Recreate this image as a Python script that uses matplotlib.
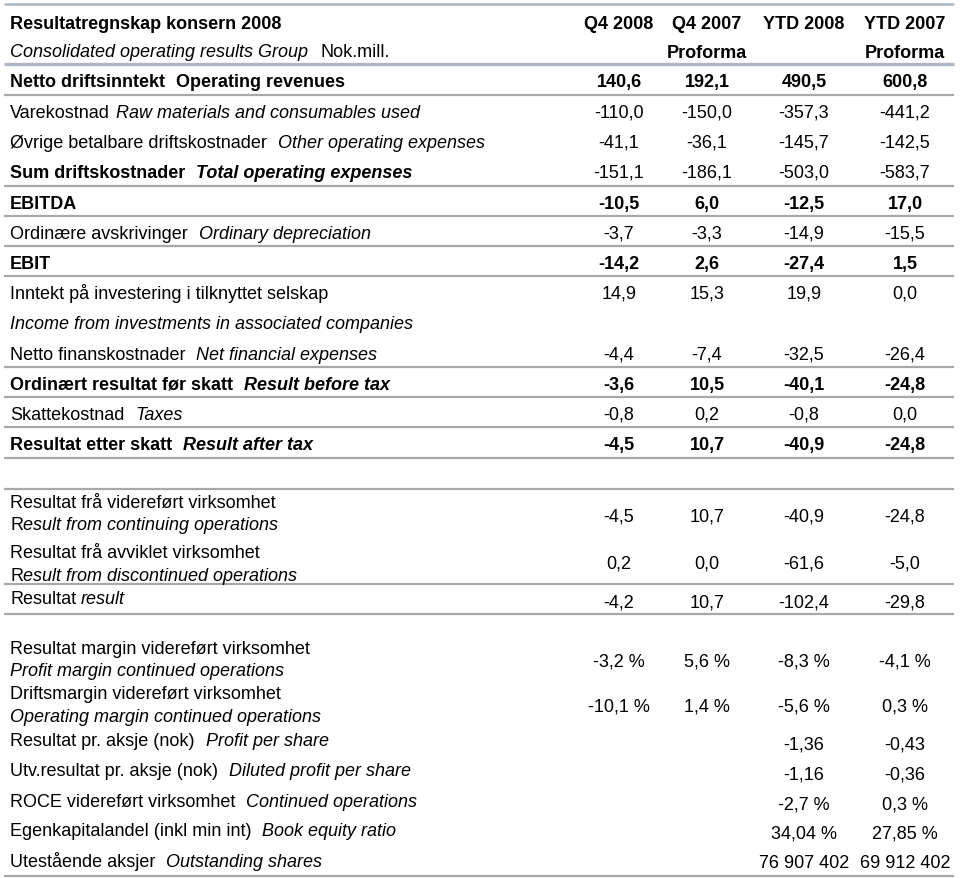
import matplotlib
matplotlib.use("Agg")
import matplotlib.pyplot as plt

plt.rcParams['font.family'] = ['Liberation Sans', 'DejaVu Sans']

# ---- data -------------------------------------------------------------
col_headers = ["Q4 2008", "Q4 2007", "YTD 2008", "YTD 2007"]
col_sub = ["", "Proforma", "", "Proforma"]

# main income statement (Nok.mill.)
main_no = ["Netto driftsinntekt", "Varekostnad", "Øvrige betalbare driftskostnader",
           "Sum driftskostnader", "EBITDA", "Ordinære avskrivinger", "EBIT",
           "Inntekt på investering i tilknyttet selskap", "Netto finanskostnader",
           "Ordinært resultat før skatt", "Skattekostnad", "Resultat etter skatt"]
main_en = ["Operating revenues", "Raw materials and consumables used",
           "Other operating expenses", "Total operating expenses", "",
           "Ordinary depreciation", "", "Income from investments in associated companies",
           "Net financial expenses", "Result before tax", "Taxes", "Result after tax"]
main_q4_2008 = [140.6, -110.0, -41.1, -151.1, -10.5, -3.7, -14.2, 14.9, -4.4, -3.6, -0.8, -4.5]
main_q4_2007 = [192.1, -150.0, -36.1, -186.1, 6.0, -3.3, 2.6, 15.3, -7.4, 10.5, 0.2, 10.7]
main_ytd_2008 = [490.5, -357.3, -145.7, -503.0, -12.5, -14.9, -27.4, 19.9, -32.5, -40.1, -0.8, -40.9]
main_ytd_2007 = [600.8, -441.2, -142.5, -583.7, 17.0, -15.5, 1.5, 0.0, -26.4, -24.8, 0.0, -24.8]
main_bold_label = [True, False, False, True, True, False, True, False, False, True, False, True]
main_bold_value = [True, False, False, False, True, False, True, False, False, True, False, True]

# continuing / discontinued
res_no = ["Resultat frå videreført virksomhet", "Resultat frå avviklet virksomhet", "Resultat"]
res_en = ["Result from continuing operations", "Result from discontinued operations", "result"]
res_q4_2008 = [-4.5, 0.2, -4.2]
res_q4_2007 = [10.7, 0.0, 10.7]
res_ytd_2008 = [-40.9, -61.6, -102.4]
res_ytd_2007 = [-24.8, -5.0, -29.8]

# key figures
key_no = ["Resultat margin videreført virksomhet", "Driftsmargin videreført virksomhet",
          "Resultat pr. aksje (nok)", "Utv.resultat pr. aksje (nok)",
          "ROCE videreført virksomhet", "Egenkapitalandel (inkl min int)", "Utestående aksjer"]
key_en = ["Profit margin continued operations", "Operating margin continued operations",
          "Profit per share", "Diluted profit per share", "Continued operations",
          "Book equity ratio", "Outstanding shares"]
key_values = [
    ["-3,2 %", "5,6 %", "-8,3 %", "-4,1 %"],
    ["-10,1 %", "1,4 %", "-5,6 %", "0,3 %"],
    ["", "", "-1,36", "-0,43"],
    ["", "", "-1,16", "-0,36"],
    ["", "", "-2,7 %", "0,3 %"],
    ["", "", "34,04 %", "27,85 %"],
    ["", "", "76 907 402", "69 912 402"],
]

# ---- layout -----------------------------------------------------------
FS = 13
BASE = 6  # baseline offset from row centre, px
col_x = [619, 707, 804, 905]
x0 = 10
main_y = [81, 112, 142, 172, 203, 233, 263, 293, 354, 384, 414, 444]
res_y_no = [502, 552, 598]
res_y_en = [524, 575, 598]
res_y_val = [516, 563, 602]
key_y_no = [648, 693, 740, 770, 801, 830, 861]
key_y_en = [670, 716, 740, 770, 801, 830, 861]
key_y_val = [661, 706, 744, 774, 804, 833, 862]

fig = plt.figure(figsize=(9.6, 8.79), dpi=100)
ax = fig.add_axes([0, 0, 1, 1])
ax.set_xlim(0, 960)
ax.set_ylim(879, 0)
ax.axis('off')
renderer = fig.canvas.get_renderer()


def fmt(v):
    return f"{v:.1f}".replace('.', ',')


def label(x, y, text, weight='normal', style='normal'):
    return ax.text(x, y + BASE, text, fontsize=FS, fontweight=weight, fontstyle=style,
                   va='baseline', ha='left')


def segments(x, y, parts):
    """Draw text pieces one after another on the same line."""
    for text, weight, style, gap in parts:
        t = label(x, y, text, weight, style)
        bb = t.get_window_extent(renderer)
        x += bb.width + gap


def values(y, vals, bold=False):
    for cx, v in zip(col_x, vals):
        if v != "":
            ax.text(cx, y + BASE, v, fontsize=FS, ha='center', va='baseline',
                    fontweight='bold' if bold else 'normal')


# horizontal rules
rule_grey = '#a8a8a8'
rule_blue = '#b0b5c2'
ax.hlines(5, 4, 954, color=rule_blue, lw=1.8)
ax.hlines(65, 4, 954, color=rule_blue, lw=2.4)
for yl in [96, 187, 217, 247, 277, 368, 398, 428, 459, 490, 585, 615, 877]:
    ax.hlines(yl, 4, 954, color=rule_grey, lw=1.6)

# header
label(x0, 23, "Resultatregnskap konsern 2008", 'bold')
segments(x0, 51, [("Consolidated operating results Group", 'normal', 'italic', 12),
                  ("Nok.mill.", 'normal', 'normal', 0)])
for cx, h, s in zip(col_x, col_headers, col_sub):
    ax.text(cx, 23 + BASE, h, fontsize=FS, fontweight='bold', ha='center', va='baseline')
    if s:
        ax.text(cx, 52 + BASE, s, fontsize=FS, fontweight='bold', ha='center', va='baseline')

# main section
for i, (no, en) in enumerate(zip(main_no, main_en)):
    y = main_y[i]
    w = 'bold' if main_bold_label[i] else 'normal'
    if i == 0:
        segments(x0, y, [(no, 'bold', 'normal', 11), (en, 'bold', 'normal', 0)])
    elif i == 7:
        label(x0, y, no)
        label(x0, y + 30, en, style='italic')
    elif en:
        gap = 6 if i == 1 else 11
        segments(x0, y, [(no, w, 'normal', gap), (en, w, 'italic', 0)])
    else:
        label(x0, y, no, w)
    vals = [fmt(main_q4_2008[i]), fmt(main_q4_2007[i]), fmt(main_ytd_2008[i]), fmt(main_ytd_2007[i])]
    values(y, vals, main_bold_value[i])

# result section
for i, (no, en) in enumerate(zip(res_no, res_en)):
    if i < 2:
        label(x0, res_y_no[i], no)
        segments(x0, res_y_en[i], [(en[0], 'normal', 'normal', 0), (en[1:], 'normal', 'italic', 0)])
    else:
        segments(x0, res_y_no[i], [(no, 'normal', 'normal', 5), (en, 'normal', 'italic', 0)])
    vals = [fmt(res_q4_2008[i]), fmt(res_q4_2007[i]), fmt(res_ytd_2008[i]), fmt(res_ytd_2007[i])]
    values(res_y_val[i], vals)

# key figures
for i, (no, en) in enumerate(zip(key_no, key_en)):
    if key_y_no[i] != key_y_en[i]:
        label(x0, key_y_no[i], no)
        label(x0, key_y_en[i], en, style='italic')
    else:
        segments(x0, key_y_no[i], [(no, 'normal', 'normal', 11), (en, 'normal', 'italic', 0)])
    values(key_y_val[i], key_values[i])

fig.savefig("out.png", dpi=100)
